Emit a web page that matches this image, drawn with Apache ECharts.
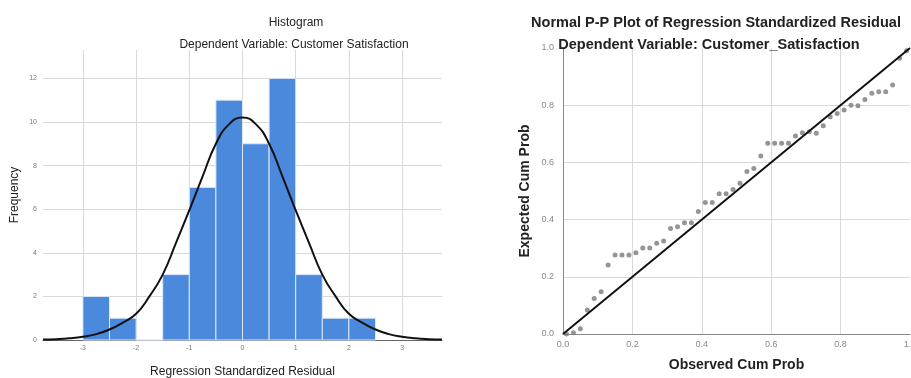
<!DOCTYPE html>
<html>
<head>
<meta charset="utf-8">
<script src="https://cdn.jsdelivr.net/npm/echarts@6/dist/echarts.min.js"></script>
<style>
  html, body { margin: 0; padding: 0; background: #fff; }
  #main { width: 911px; height: 378px; }
</style>
</head>
<body>
<div id="main"></div>
<script>
// histogram bins (edges) and frequencies
const binEdges = [-3, -2.5, -2, -1.5, -1, -0.5, 0, 0.5, 1, 1.5, 2, 2.5]
const binCounts = [2, 1, 0, 3, 7, 11, 9, 12, 3, 1, 1]
const xTicks = [-3, -2, -1, 0, 1, 2, 3]
// normal curve
const curveX = [-3.75, -3.5, -3.25, -3, -2.75, -2.5, -2.25, -2, -1.75, -1.5, -1.25, -1, -0.75, -0.5, -0.25, 0,
  0.25, 0.5, 0.75, 1, 1.25, 1.5, 1.75, 2, 2.25, 2.5, 2.75, 3, 3.25, 3.5, 3.75]
const curveY = [0.02, 0.04, 0.08, 0.15, 0.27, 0.48, 0.8, 1.2, 2.0, 3.0, 4.45, 5.95, 7.5, 9.0, 9.9, 10.2,
  9.9, 9.0, 7.5, 5.95, 4.45, 3.0, 2.0, 1.2, 0.8, 0.48, 0.27, 0.15, 0.08, 0.04, 0.02]
// P-P plot points
const observedCum = [0.01, 0.03, 0.05, 0.07, 0.09, 0.11, 0.13, 0.15, 0.17, 0.19,
  0.21, 0.23, 0.25, 0.27, 0.29, 0.31, 0.33, 0.35, 0.37, 0.39,
  0.41, 0.43, 0.45, 0.47, 0.49, 0.51, 0.53, 0.55, 0.57, 0.59,
  0.61, 0.63, 0.65, 0.67, 0.69, 0.71, 0.73, 0.75, 0.77, 0.79,
  0.81, 0.83, 0.85, 0.87, 0.89, 0.91, 0.93, 0.95, 0.97, 0.99]
const expectedCum = [0.0, 0.004, 0.018, 0.084, 0.124, 0.148, 0.241, 0.276, 0.276, 0.276,
  0.284, 0.301, 0.301, 0.317, 0.325, 0.369, 0.375, 0.389, 0.389, 0.428,
  0.46, 0.46, 0.49, 0.49, 0.505, 0.527, 0.568, 0.579, 0.622, 0.667,
  0.667, 0.667, 0.667, 0.692, 0.704, 0.707, 0.702, 0.728, 0.76, 0.771,
  0.783, 0.8, 0.798, 0.82, 0.842, 0.847, 0.847, 0.871, 0.964, 0.99]
const refLine = [[0, 0], [1, 1]]

const chart = echarts.init(document.getElementById('main'))

const font = 'Liberation Sans, Arial, sans-serif'
const gridColor = '#d9d9d9'
const smallLabel = { color: '#777', fontSize: 7, fontFamily: font }
const ppLabel = { color: '#888', fontSize: 9, fontFamily: font }

let histData = binCounts.map((c, i) => [binEdges[i], binEdges[i + 1], c])
let curveData = curveX.map((x, i) => [x, curveY[i]])
let ppData = observedCum.map((x, i) => [x, expectedCum[i]])

let option = {
  animation: false,
  title: [
    { text: 'Histogram', left: 291, top: 12, textAlign: 'center',
      textStyle: { fontSize: 12, fontWeight: 'normal', color: '#222', fontFamily: font } },
    { text: 'Dependent Variable: Customer Satisfaction', left: 289, top: 34, textAlign: 'center',
      textStyle: { fontSize: 12, fontWeight: 'normal', color: '#222', fontFamily: font } },
    { text: 'Normal P-P Plot of Regression Standardized Residual', left: 711, top: 10, textAlign: 'center',
      textStyle: { fontSize: 14.5, fontWeight: 'bold', color: '#222', fontFamily: font } },
    { text: 'Dependent Variable: Customer_Satisfaction', left: 704, top: 32, textAlign: 'center',
      textStyle: { fontSize: 14.5, fontWeight: 'bold', color: '#222', fontFamily: font } }
  ],
  grid: [
    { left: 43, top: 50, width: 399, height: 290, outerBoundsMode: 'none' },
    { left: 563, top: 48, width: 347, height: 286, outerBoundsMode: 'none' }
  ],
  xAxis: [
    {
      gridIndex: 0, type: 'value', min: -3.75, max: 3.75, interval: 0.25,
      name: 'Regression Standardized Residual', nameLocation: 'middle', nameGap: 26,
      nameTextStyle: { fontSize: 12, color: '#222', fontFamily: font },
      axisLine: { lineStyle: { color: '#666' } },
      axisTick: { show: false },
      axisLabel: Object.assign({ margin: 5, showMinLabel: false, showMaxLabel: false,
        formatter: v => Number.isInteger(v) ? String(v) : '' }, smallLabel),
      splitLine: { show: false }
    },
    {
      gridIndex: 1, type: 'value', min: 0, max: 1, interval: 0.2,
      name: 'Observed Cum Prob', nameLocation: 'middle', nameGap: 24,
      nameTextStyle: { fontSize: 14, fontWeight: 'bold', color: '#222', fontFamily: font },
      axisLine: { lineStyle: { color: '#888' } },
      axisTick: { show: false },
      axisLabel: Object.assign({ margin: 6, formatter: v => v.toFixed(1) }, ppLabel),
      splitLine: { show: true, showMinLine: false, showMaxLine: false, lineStyle: { color: gridColor } }
    }
  ],
  yAxis: [
    {
      gridIndex: 0, type: 'value', min: 0, max: 13.3, interval: 2,
      name: 'Frequency', nameLocation: 'middle', nameGap: 22,
      nameTextStyle: { fontSize: 12, color: '#222', fontFamily: font },
      axisLine: { show: true, lineStyle: { color: '#ccc' } },
      axisTick: { show: false },
      axisLabel: Object.assign({ margin: 6, showMaxLabel: false,
        formatter: v => Number.isInteger(v) ? String(v) : '' }, smallLabel),
      splitLine: { show: true, showMaxLine: false, lineStyle: { color: gridColor } }
    },
    {
      gridIndex: 1, type: 'value', min: 0, max: 1, interval: 0.2,
      name: 'Expected Cum Prob', nameLocation: 'middle', nameGap: 31,
      nameTextStyle: { fontSize: 14, fontWeight: 'bold', color: '#222', fontFamily: font },
      axisLine: { show: true, lineStyle: { color: '#888' } },
      axisTick: { show: false },
      axisLabel: Object.assign({ margin: 9, formatter: v => v.toFixed(1) }, ppLabel),
      splitLine: { show: true, showMinLine: false, showMaxLine: false, lineStyle: { color: gridColor } }
    }
  ],
  series: [
    {
      // vertical grid lines of the histogram at the integer ticks
      type: 'line', xAxisIndex: 0, yAxisIndex: 0, data: [],
      silent: true, z: 1,
      markLine: {
        silent: true, z: 1, symbol: 'none', label: { show: false },
        lineStyle: { color: gridColor, type: 'solid', width: 1 },
        data: xTicks.map(v => ({ xAxis: v }))
      }
    },
    {
      type: 'custom', xAxisIndex: 0, yAxisIndex: 0,
      data: histData,
      encode: { x: [0, 1], y: 2 },
      renderItem: function (params, api) {
        let p0 = api.coord([api.value(0), api.value(2)])
        let p1 = api.coord([api.value(1), 0])
        return {
          type: 'rect',
          shape: { x: p0[0], y: p0[1], width: p1[0] - p0[0], height: p1[1] - p0[1] },
          style: { fill: '#4a89dc', stroke: '#dce8f8', lineWidth: 1 }
        }
      },
      z: 2
    },
    {
      type: 'line', xAxisIndex: 0, yAxisIndex: 0,
      data: curveData, smooth: true, showSymbol: false,
      lineStyle: { color: '#111', width: 2 },
      z: 3
    },
    {
      type: 'scatter', xAxisIndex: 1, yAxisIndex: 1,
      data: ppData, symbolSize: 5,
      itemStyle: { color: '#7a7a7a' },
      z: 2
    },
    {
      type: 'line', xAxisIndex: 1, yAxisIndex: 1,
      data: refLine, showSymbol: false,
      lineStyle: { color: '#111', width: 2 },
      z: 3
    }
  ]
}
chart.setOption(option)
</script>
</body>
</html>
